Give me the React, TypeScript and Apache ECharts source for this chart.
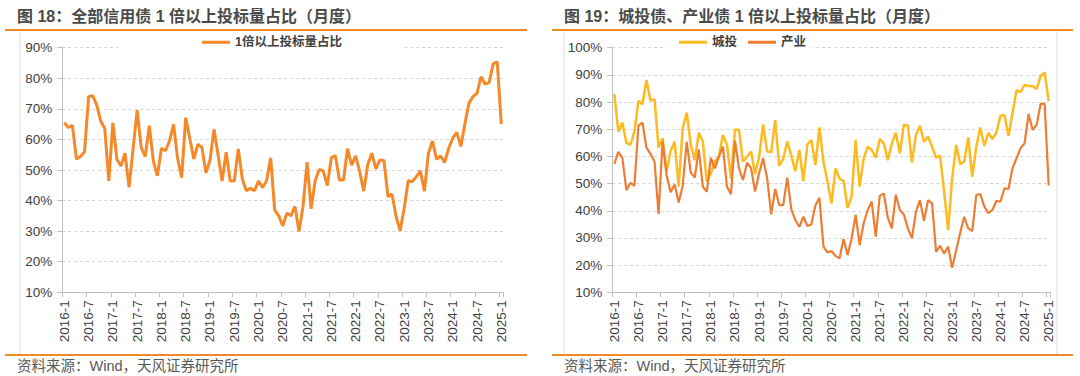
import React, { useEffect, useRef } from "react";
import * as echarts from "echarts";

const years = [2016, 2017, 2018, 2019, 2020, 2021, 2022, 2023, 2024];
const categories: string[] = [];
for (const y of years) for (let m = 1; m <= 12; m++) categories.push(`${y}-${m}`);
categories.push("2025-1");

// 全部信用债 1倍以上投标量占比 (%)
const allCredit = [
  65.5, 63.9, 64.6, 53.6, 54.4, 56, 74, 74.3, 71.3, 66, 63.6, 46.4,
  65.5, 53.5, 51.3, 55.5, 44.3, 57, 69.6, 57.3, 54.4, 64.5, 52.9, 48.1,
  57.1, 56.3, 59.5, 64.9, 53.8, 47.5, 67.1, 60.4, 53.6, 58.4, 57.4, 49.1,
  53.2, 63.3, 55, 46.4, 55.8, 46.5, 46.4, 56.9, 47, 43.2, 44, 43.2,
  46.4, 44.3, 46.5, 54, 36.9, 35, 31.7, 35.9, 35, 38.1, 29.9, 38.1,
  52.6, 37.3, 46.5, 50.2, 49.7, 44.9, 54, 54.7, 46.7, 46.7, 57, 51.6,
  54.6, 49.5, 43.1, 51.7, 55.5, 50.4, 53.3, 53.1, 41.3, 42.1, 34.8, 30.1,
  37.5, 46.5, 46.2, 47.8, 49.7, 43.1, 55.5, 59.5, 53.5, 54.6, 52.5, 57.1,
  60.4, 62.3, 57.7, 65, 71.8, 74, 75.1, 80.5, 78.1, 78.6, 84.7, 85.4,
  65,
];

// 城投 (%)
const chengtou = [
  83, 69.1, 72.5, 65, 64.2, 69.1, 80.5, 79.2, 88.1, 80.6, 81, 63.2,
  66.7, 54.4, 62, 65.4, 48.9, 70.3, 76.1, 64.4, 58.6, 68.7, 65.6, 50.7,
  53.8, 58.1, 59.9, 67.9, 64.4, 51.9, 69.9, 69.7, 58.1, 59.9, 61.8, 53.5,
  59.9, 71.8, 61.8, 61.5, 73.4, 56.5, 59.1, 65.5, 60.3, 54.6, 62.4, 50.9,
  64.4, 66, 56.8, 70.7, 58.1, 50.7, 42.7, 55.6, 51.9, 50.9, 41.1, 45.2,
  66, 48.9, 59.3, 63.6, 62.4, 59.5, 66.4, 64.8, 58.6, 64.8, 68.7, 61.1,
  71.7, 71.3, 57.7, 67.9, 71.3, 65.4, 67.3, 63.6, 59.5, 60.3, 47, 32.9,
  51.9, 64.2, 57.1, 58.1, 67, 52.5, 63.6, 70.6, 63.8, 68.7, 66.4, 68.8,
  75, 75.2, 67.5, 75.9, 84.4, 83.6, 86.3, 85.9, 85.9, 84.8, 89.6, 90.9,
  80.4,
];

// 产业 (%)
const chanye = [
  57.2, 61.7, 59.5, 47.6, 50.3, 49.2, 71.3, 72.4, 63.2, 60.9, 58.1, 38.8,
  65.6, 53.1, 46.8, 49.7, 43, 49.2, 65.4, 54.1, 52.2, 62.6, 48.9, 47,
  59.5, 55.6, 59.9, 63.6, 48.9, 46.1, 65.8, 55.6, 51.3, 57.7, 55.7, 47.1,
  53.8, 59.3, 51.9, 38.7, 48, 42.1, 42.1, 52.2, 40.6, 36.6, 34.1, 37.8,
  34.4, 35, 41.9, 44.8, 26.8, 24.7, 25.2, 23.4, 22.5, 29.6, 23.7, 29.9,
  38.5, 27.4, 35.4, 40.3, 43.4, 30.5, 45.5, 46.4, 37.5, 33.5, 45.9, 40.3,
  38.6, 33.5, 29.9, 39.7, 43.9, 36.3, 43.9, 42.7, 24.9, 27.1, 24.3, 26.8,
  19, 25.5, 31.9, 37.8, 33.5, 32.5, 45.8, 46.1, 41.5, 39.1, 40.3, 43.7,
  43.3, 48.3, 48, 55.6, 59.3, 63, 64.8, 75.6, 69.7, 71.6, 79.3, 79.3,
  49.3,
];

const titleLeft = "图 18：全部信用债 1 倍以上投标量占比（月度）";
const titleRight = "图 19：城投债、产业债 1 倍以上投标量占比（月度）";
const sourceText = "资料来源：Wind，天风证券研究所";
const seriesNames = ["1倍以上投标量占比", "城投", "产业"];

const FONT = '"Liberation Sans", "Noto Sans CJK SC", Arial, sans-serif';
const TXT = "#404040";
const AXIS = "#bfbfbf";
const ORANGE_RULE = "#F08A24";

function xAxisFor(gridIndex: number) {
  return {
    type: "category",
    gridIndex,
    data: categories,
    boundaryGap: true,
    axisLine: { show: true, lineStyle: { color: AXIS, width: 1 } },
    axisTick: { show: true, interval: 5, length: 5, lineStyle: { color: AXIS } },
    axisLabel: {
      interval: 5,
      rotate: 90,
      fontSize: 13.5,
      color: TXT,
      margin: 8,
      fontFamily: FONT,
    },
    splitLine: { show: false },
  };
}

function yAxisFor(gridIndex: number, max: number) {
  return {
    type: "value",
    gridIndex,
    min: 10,
    max,
    interval: 10,
    axisLine: { show: true, lineStyle: { color: AXIS, width: 1 } },
    axisTick: { show: true, length: 5, lineStyle: { color: AXIS } },
    axisLabel: {
      formatter: "{value}%",
      fontSize: 13.5,
      color: TXT,
      margin: 10,
      fontFamily: FONT,
    },
    splitLine: { show: true, lineStyle: { color: "#d4d4d4", type: [3, 3], width: 1 } },
  };
}

export default function App() {
  const ref = useRef<HTMLDivElement>(null);
  useEffect(() => {
    if (!ref.current) return;
    const chart = echarts.init(ref.current, undefined, { renderer: "svg" });
    const option: any = {
      animation: false,
      backgroundColor: "#ffffff",
      textStyle: { fontFamily: FONT },
      grid: [
        { left: 62.3, top: 47.7, width: 441, height: 244.6, containLabel: false },
        { left: 612.3, top: 47.7, width: 438.4, height: 244.6, containLabel: false },
      ],
      xAxis: [xAxisFor(0), xAxisFor(1)],
      yAxis: [yAxisFor(0, 90), yAxisFor(1, 100)],
      legend: [
        {
          data: [seriesNames[0]],
          left: 202,
          top: 36,
          padding: 0,
          icon: "rect",
          itemWidth: 28,
          itemHeight: 3,
          itemGap: 10,
          selectedMode: false,
          textStyle: { fontSize: 12.5, fontWeight: "bold", color: TXT, fontFamily: FONT },
        },
        {
          data: [seriesNames[1], seriesNames[2]],
          left: 679,
          top: 36,
          padding: 0,
          icon: "rect",
          itemWidth: 28,
          itemHeight: 3,
          itemGap: 11,
          selectedMode: false,
          textStyle: { fontSize: 12.5, fontWeight: "bold", color: TXT, fontFamily: FONT },
        },
      ],
      series: [
        {
          name: seriesNames[0],
          type: "line",
          xAxisIndex: 0,
          yAxisIndex: 0,
          data: allCredit,
          symbol: "none",
          lineStyle: { color: "#F5892A", width: 3 },
          itemStyle: { color: "#F5892A" },
          z: 3,
        },
        {
          name: seriesNames[1],
          type: "line",
          xAxisIndex: 1,
          yAxisIndex: 1,
          data: chengtou,
          symbol: "none",
          lineStyle: { color: "#FDBA21", width: 2.5 },
          itemStyle: { color: "#FDBA21" },
          z: 3,
        },
        {
          name: seriesNames[2],
          type: "line",
          xAxisIndex: 1,
          yAxisIndex: 1,
          data: chanye,
          symbol: "none",
          lineStyle: { color: "#EE7D33", width: 2.2 },
          itemStyle: { color: "#EE7D33" },
          z: 4,
        },
      ],
      graphic: [
        { type: "rect", z: 2, shape: { x: 118, y: 38, width: 285, height: 14 }, style: { fill: "#ffffff" } },
        { type: "rect", z: 2, shape: { x: 667, y: 38, width: 145, height: 14 }, style: { fill: "#ffffff" } },
        { type: "line", z: 1, shape: { x1: 20, y1: 31, x2: 20, y2: 354 }, style: { stroke: "#dcdcdc", lineWidth: 1 } },
        { type: "line", z: 1, shape: { x1: 564, y1: 31, x2: 564, y2: 354 }, style: { stroke: "#dcdcdc", lineWidth: 1 } },
        { type: "line", z: 1, shape: { x1: 1057, y1: 31, x2: 1057, y2: 354 }, style: { stroke: "#dcdcdc", lineWidth: 1 } },
        { type: "line", z: 5, shape: { x1: 5, y1: 30, x2: 527, y2: 30 }, style: { stroke: ORANGE_RULE, lineWidth: 2 } },
        { type: "line", z: 5, shape: { x1: 552, y1: 30, x2: 1073, y2: 30 }, style: { stroke: ORANGE_RULE, lineWidth: 2 } },
        { type: "line", z: 5, shape: { x1: 5, y1: 355, x2: 527, y2: 355 }, style: { stroke: ORANGE_RULE, lineWidth: 2 } },
        { type: "line", z: 5, shape: { x1: 552, y1: 355, x2: 1073, y2: 355 }, style: { stroke: ORANGE_RULE, lineWidth: 2 } },
        {
          type: "text",
          z: 5,
          x: 17,
          y: 16,
          style: { text: titleLeft, fill: "#4a4a4a", font: `bold 16px ${FONT}`, verticalAlign: "middle", align: "left" },
        },
        {
          type: "text",
          z: 5,
          x: 564,
          y: 16,
          style: { text: titleRight, fill: "#4a4a4a", font: `bold 16px ${FONT}`, verticalAlign: "middle", align: "left" },
        },
        {
          type: "text",
          z: 5,
          x: 17,
          y: 366,
          style: { text: sourceText, fill: "#595959", font: `14.5px ${FONT}`, verticalAlign: "middle", align: "left" },
        },
        {
          type: "text",
          z: 5,
          x: 564,
          y: 366,
          style: { text: sourceText, fill: "#595959", font: `14.5px ${FONT}`, verticalAlign: "middle", align: "left" },
        },
      ],
    };
    chart.setOption(option);
    return () => chart.dispose();
  }, []);
  return (
    <div
      ref={ref}
      style={{ position: "absolute", left: 0, top: 0, width: 1080, height: 376, background: "#fff" }}
    />
  );
}
